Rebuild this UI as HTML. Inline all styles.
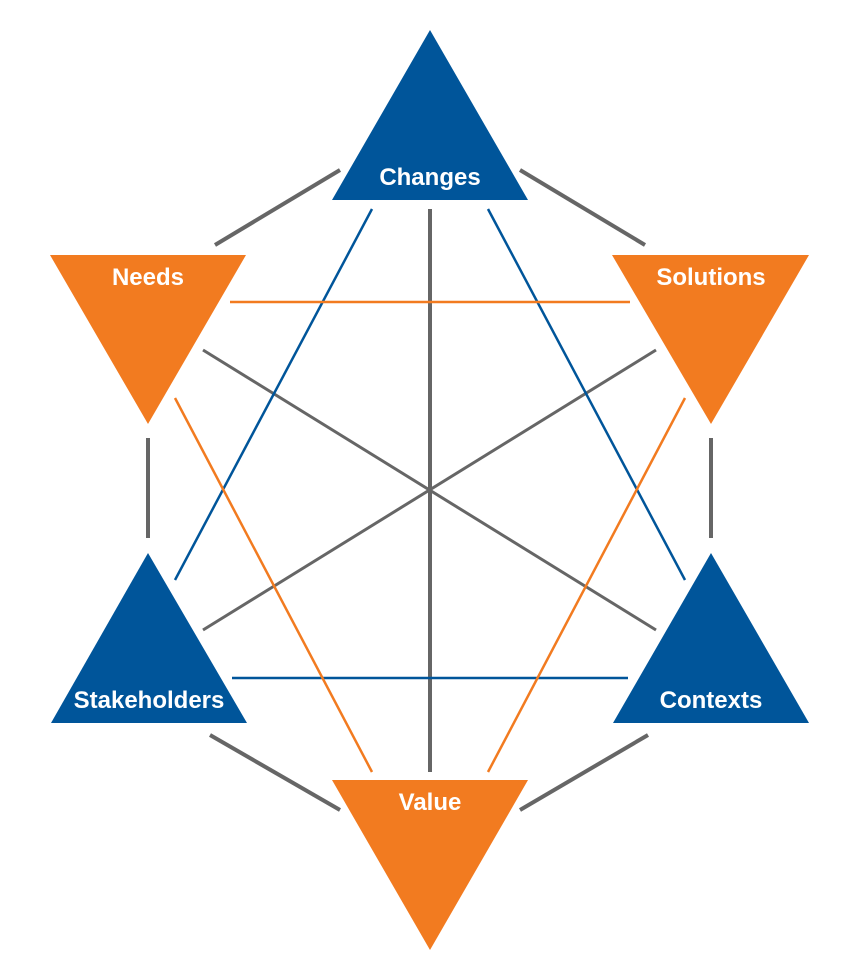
<!DOCTYPE html>
<html><head><style>
html,body{margin:0;padding:0;background:#fff;}
svg{display:block;}
text{font-family:"Liberation Sans Narrow","Liberation Sans",sans-serif;font-weight:bold;font-size:24px;fill:#fff;text-anchor:middle;}
</style></head><body>
<svg width="863" height="975" viewBox="0 0 863 975">
<g stroke="#666" stroke-width="4" fill="none">
<line x1="215" y1="245" x2="340" y2="170"/>
<line x1="520" y1="170" x2="645" y2="245"/>
<line x1="148" y1="438" x2="148" y2="538"/>
<line x1="711" y1="438" x2="711" y2="538"/>
<line x1="210" y1="735" x2="340" y2="810"/>
<line x1="520" y1="810" x2="648" y2="735"/>
<line x1="430" y1="209" x2="430" y2="772"/>
<line x1="203" y1="350" x2="656" y2="630" stroke-width="3"/>
<line x1="656" y1="350" x2="203" y2="630" stroke-width="3"/>
</g>
<g stroke="#00559a" stroke-width="2.5">
<line x1="372" y1="209" x2="175" y2="580"/>
<line x1="488" y1="209" x2="685" y2="580"/>
<line x1="232" y1="678" x2="628" y2="678"/>
</g>
<g stroke="#f27b20" stroke-width="2.5">
<line x1="230" y1="302" x2="630" y2="302"/>
<line x1="175" y1="398" x2="372" y2="772"/>
<line x1="685" y1="398" x2="488" y2="772"/>
</g>
<g fill="#00559a">
<polygon points="430,30 528,200 332,200"/>
<polygon points="148,553 247,723 51,723"/>
<polygon points="711,553 809,723 613,723"/>
</g>
<g fill="#f27b20">
<polygon points="50,255 246,255 148,424"/>
<polygon points="612,255 809,255 711,424"/>
<polygon points="332,780 528,780 430,950"/>
</g>
<text x="430" y="185">Changes</text>
<text x="148" y="285">Needs</text>
<text x="711" y="285">Solutions</text>
<text x="149" y="708">Stakeholders</text>
<text x="711" y="708">Contexts</text>
<text x="430" y="810">Value</text>
</svg>
</body></html>
